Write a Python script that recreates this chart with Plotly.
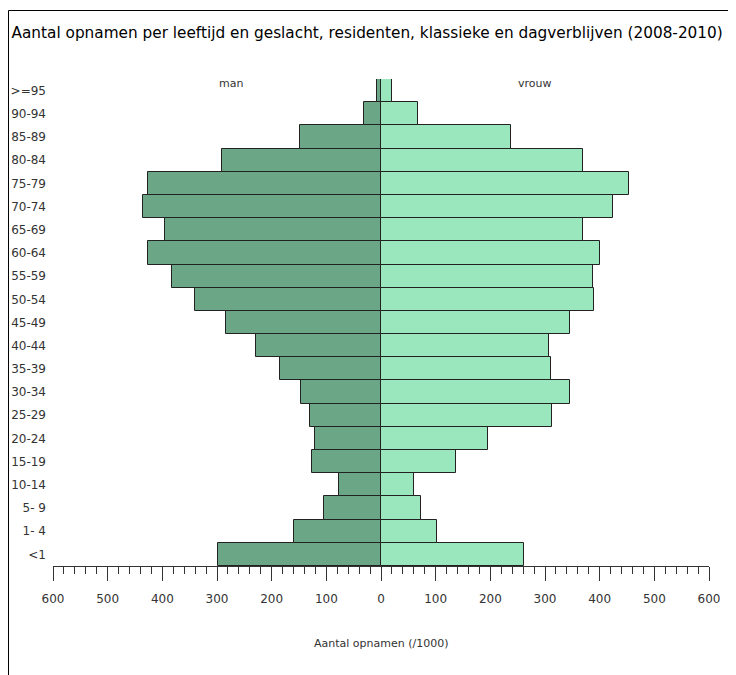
import plotly.graph_objects as go

categories = ["<1", "1- 4", "5- 9", "10-14", "15-19", "20-24", "25-29", "30-34",
              "35-39", "40-44", "45-49", "50-54", "55-59", "60-64", "65-69",
              "70-74", "75-79", "80-84", "85-89", "90-94", ">=95"]
man = [298, 160, 105, 77, 126, 121, 129, 146, 184, 229, 284, 341, 382, 426,
       396, 436, 426, 290, 149, 31, 8]
vrouw = [262, 103, 73, 60, 137, 196, 313, 346, 311, 308, 346, 390, 387, 401,
         369, 424, 453, 369, 237, 67, 21]
tick_vals = [-600, -500, -400, -300, -200, -100, 0, 100, 200, 300, 400, 500, 600]
tick_text = ["600", "500", "400", "300", "200", "100", "0", "100", "200", "300", "400", "500", "600"]

W, H = 736, 675
OFF = 8  # page body margin
# target plot area in screen pixels: x 53..709, y 79..566
L = 53 - OFF
T = 79 - OFF
pw = 656
ph = 487
R = W - L - pw
B = H - T - ph

def px_x(p):
    return (p - OFF - L) / pw

def px_y(p):
    return (T + ph - (p - OFF)) / ph

fig = go.Figure()
fig.add_trace(go.Bar(y=categories, x=[-v for v in man], orientation="h", name="man",
                     marker=dict(color="#6ba786", line=dict(color="#222222", width=1))))
fig.add_trace(go.Bar(y=categories, x=vrouw, orientation="h", name="vrouw",
                     marker=dict(color="#9be7bd", line=dict(color="#222222", width=1))))

font = "DejaVu Sans"
fig.update_layout(
    width=W, height=H,
    margin=dict(l=L, r=R, t=T, b=B, autoexpand=False),
    paper_bgcolor="white", plot_bgcolor="white",
    barmode="relative", bargap=0, showlegend=False,
    title=dict(text="Aantal opnamen per leeftijd en geslacht, residenten, klassieke en dagverblijven (2008-2010)",
               x=(11.5 - OFF) / W, xanchor="left", xref="container",
               y=1 - (33 - OFF) / H, yanchor="middle",
               font=dict(family=font, size=15.3, color="#000000")),
    xaxis=dict(range=[-600, 600], tickmode="array", tickvals=tick_vals, ticktext=tick_text,
               showgrid=False, zeroline=False, showline=True, linecolor="#333333", linewidth=1,
               ticks="outside", ticklen=14, tickcolor="#333333", tickwidth=1,
               minor=dict(dtick=20, tick0=0, ticks="outside", ticklen=7, tickcolor="#333333", tickwidth=1),
               ticklabelstandoff=8, automargin=False,
               tickfont=dict(family=font, size=12, color="#333333"), fixedrange=True),
    yaxis=dict(range=[-0.5, 20.5], showgrid=False, zeroline=False, showline=False, ticks="",
               ticklabelstandoff=6, automargin=False,
               tickfont=dict(family=font, size=12, color="#333333"), fixedrange=True),
    shapes=[dict(type="line", xref="paper", yref="paper",
                 x0=px_x(8.5), x1=px_x(800), y0=px_y(10.5), y1=px_y(10.5),
                 line=dict(color="#000000", width=1)),
            dict(type="line", xref="paper", yref="paper",
                 x0=px_x(8.5), x1=px_x(8.5), y0=px_y(10.5), y1=px_y(800),
                 line=dict(color="#000000", width=1))],
    annotations=[
        dict(text="Aantal opnamen (/1000)", x=0, xref="x", y=px_y(643), yref="paper",
             showarrow=False, xanchor="center", yanchor="middle",
             font=dict(family=font, size=11, color="#333333")),
        dict(text="man", x=px_x(231), xref="paper", y=px_y(83), yref="paper",
             showarrow=False, xanchor="center", yanchor="middle",
             font=dict(family=font, size=11, color="#333333")),
        dict(text="vrouw", x=px_x(535), xref="paper", y=px_y(83), yref="paper",
             showarrow=False, xanchor="center", yanchor="middle",
             font=dict(family=font, size=11, color="#333333")),
    ],
)

fig.write_html("out.html")
